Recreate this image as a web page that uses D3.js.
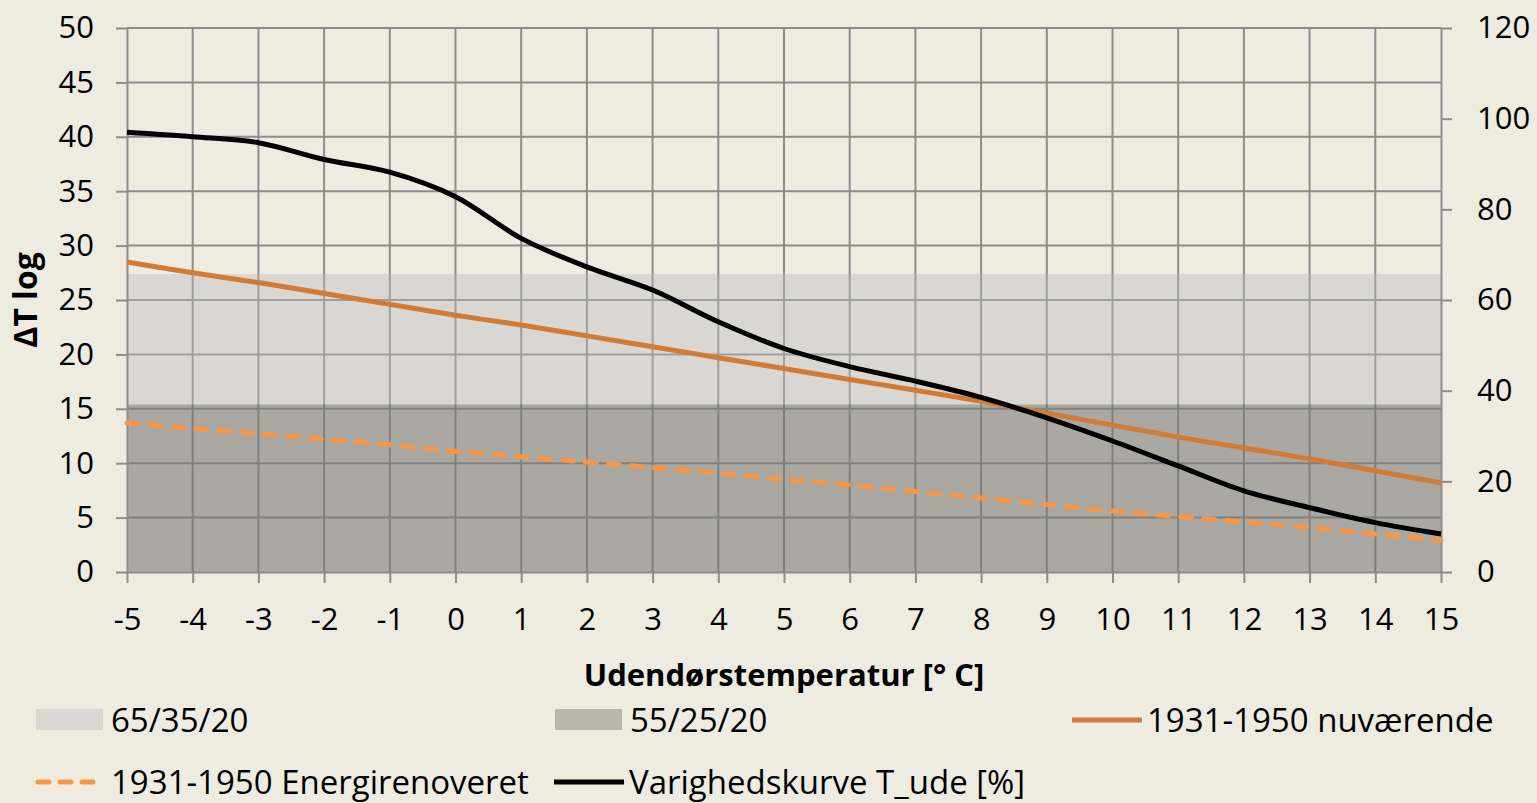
<!DOCTYPE html>
<html>
<head>
<meta charset="utf-8">
<script src="https://cdn.jsdelivr.net/npm/d3@7"></script>
<style>
  body { margin: 0; background: #EEECE1; }
  svg { display: block; font-family: "Open Sans", Lato, sans-serif; }
</style>
</head>
<body>
<svg id="chart" width="1537" height="803"></svg>
<script>
// Outdoor temperature categories (x axis).
const temps = [-5, -4, -3, -2, -1, 0, 1, 2, 3, 4, 5, 6, 7, 8, 9, 10, 11, 12, 13, 14, 15];

// Area series (left axis).
const area65 = [27.4, 27.4, 27.4, 27.4, 27.4, 27.4, 27.4, 27.4, 27.4, 27.4, 27.4,
                27.4, 27.4, 27.4, 27.4, 27.4, 27.4, 27.4, 27.4, 27.4, 27.4];
const area55 = [15.4, 15.4, 15.4, 15.4, 15.4, 15.4, 15.4, 15.4, 15.4, 15.4, 15.4,
                15.4, 15.4, 15.4, 15.4, 15.4, 15.4, 15.4, 15.4, 15.4, 15.4];

// Line series (left axis).
const nuvaerende = [28.5, 27.5, 26.6, 25.6, 24.6, 23.6, 22.7, 21.7, 20.7, 19.7, 18.7,
                    17.7, 16.7, 15.7, 14.6, 13.5, 12.4, 11.4, 10.4, 9.3, 8.2];
const energirenoveret = [13.7, 13.2, 12.7, 12.2, 11.7, 11.1, 10.6, 10.1, 9.6, 9.1, 8.5,
                         8.0, 7.4, 6.8, 6.2, 5.6, 5.1, 4.6, 4.1, 3.5, 2.9];

// Duration curve (right axis, %).
const varighed = [97.0, 96.0, 94.7, 91.0, 88.2, 82.8, 73.6, 67.3, 62.2, 55.2, 49.3,
                  45.3, 42.1, 38.5, 34.0, 28.9, 23.4, 17.9, 14.2, 10.9, 8.4];

const leftTicks = [0, 5, 10, 15, 20, 25, 30, 35, 40, 45, 50];
const rightTicks = [0, 20, 40, 60, 80, 100, 120];

const svg = d3.select("#chart");
const plotLeft = 127, plotRight = 1441, plotTop = 28, plotBottom = 572;
const gridColor = "#8C8C8C";
const fontSize = "31px";
const lineWidth = 5;
const dashPattern = "11,12";

const x = d3.scaleLinear().domain([-5, 15]).range([plotLeft, plotRight]);
const yL = d3.scaleLinear().domain([0, 50]).range([plotBottom, plotTop]);
const yR = d3.scaleLinear().domain([0, 120]).range([plotBottom, plotTop]);

// Gridlines.
svg.append("g")
    .selectAll("line")
    .data(leftTicks.slice(1))
    .join("line")
    .attr("x1", plotLeft).attr("x2", plotRight)
    .attr("y1", d => yL(d)).attr("y2", d => yL(d))
    .attr("stroke", gridColor).attr("stroke-width", 2);

svg.append("g")
    .selectAll("line")
    .data(temps.slice(1, -1))
    .join("line")
    .attr("x1", d => x(d)).attr("x2", d => x(d))
    .attr("y1", plotTop).attr("y2", plotBottom)
    .attr("stroke", gridColor).attr("stroke-width", 2);

// Areas (semi transparent, overlapping from 0).
const areaGen = d3.area()
    .x((d, i) => x(temps[i]))
    .y0(yL(0))
    .y1(d => yL(d));

const fill65 = { color: "#BABBBD", opacity: 0.42 };
const fill55 = { color: "#34362F", opacity: 0.286 };

svg.append("path").datum(area65)
    .attr("d", areaGen)
    .attr("fill", fill65.color).attr("fill-opacity", fill65.opacity);
svg.append("path").datum(area55)
    .attr("d", areaGen)
    .attr("fill", fill55.color).attr("fill-opacity", fill55.opacity);

// Axes.
function styleAxis(g) {
    g.selectAll(".domain").attr("stroke", gridColor).attr("stroke-width", 2);
    g.selectAll(".tick line").attr("stroke", gridColor).attr("stroke-width", 2);
    g.selectAll(".tick text")
        .attr("fill", "#000")
        .style("font-family", "'Open Sans', Lato, sans-serif")
        .style("font-size", fontSize);
}

// Plain hyphen for negatives, as in the original.
const plainFormat = d => String(d);

svg.append("g")
    .attr("transform", `translate(${plotLeft},0)`)
    .call(d3.axisLeft(yL).tickValues(leftTicks).tickFormat(plainFormat)
        .tickSize(11).tickPadding(22).tickSizeOuter(0))
    .call(styleAxis);

svg.append("g")
    .attr("transform", `translate(0,${plotBottom})`)
    .call(d3.axisBottom(x).tickValues(temps).tickFormat(plainFormat)
        .tickSize(11).tickPadding(25).tickSizeOuter(0))
    .call(styleAxis);

svg.append("g")
    .attr("transform", `translate(${plotRight},0)`)
    .call(d3.axisRight(yR).tickValues(rightTicks).tickFormat(plainFormat)
        .tickSize(11).tickPadding(25).tickSizeOuter(0))
    .call(styleAxis);

// Lines.
const lineL = d3.line()
    .x((d, i) => x(temps[i]))
    .y(d => yL(d))
    .curve(d3.curveCatmullRom.alpha(0.5));
const lineR = d3.line()
    .x((d, i) => x(temps[i]))
    .y(d => yR(d))
    .curve(d3.curveCatmullRom.alpha(0.5));

svg.append("path").datum(energirenoveret)
    .attr("d", lineL).attr("fill", "none")
    .attr("stroke", "#F79646").attr("stroke-width", lineWidth)
    .attr("stroke-linecap", "round")
    .attr("stroke-dasharray", dashPattern);

svg.append("path").datum(nuvaerende)
    .attr("d", lineL).attr("fill", "none")
    .attr("stroke", "#D27B35").attr("stroke-width", lineWidth);

svg.append("path").datum(varighed)
    .attr("d", lineR).attr("fill", "none")
    .attr("stroke", "#000").attr("stroke-width", lineWidth);

// Axis titles.
svg.append("text")
    .attr("x", 784).attr("y", 686)
    .attr("text-anchor", "middle")
    .style("font-size", "31px").style("font-weight", "bold")
    .text("Udendørstemperatur [° C]");

svg.append("text")
    .attr("transform", "translate(37,300) rotate(-90)")
    .attr("text-anchor", "middle")
    .style("font-size", "32px").style("font-weight", "bold")
    .text("ΔT log");

// Legend.
const legendItems = [
    { label: "65/35/20", type: "rect", fill: fill65, x: 36, y: 720 },
    { label: "55/25/20", type: "rect", fill: fill55, x: 555, y: 720 },
    { label: "1931-1950 nuværende", type: "line", color: "#D27B35", x: 1072, y: 720 },
    { label: "1931-1950 Energirenoveret", type: "dash", color: "#F79646", x: 36, y: 782 },
    { label: "Varighedskurve T_ude [%]", type: "line", color: "#000", x: 554, y: 782 }
];

const legend = svg.append("g");
legendItems.forEach(function(d) {
    if (d.type === "rect") {
        legend.append("rect")
            .attr("x", d.x).attr("y", d.y - 11)
            .attr("width", 67).attr("height", 21)
            .attr("fill", "#EEECE1");
        legend.append("rect")
            .attr("x", d.x).attr("y", d.y - 11)
            .attr("width", 67).attr("height", 21)
            .attr("fill", d.fill.color).attr("fill-opacity", d.fill.opacity);
    } else if (d.type === "dash") {
        legend.append("line")
            .attr("x1", d.x + 2).attr("x2", d.x + 62)
            .attr("y1", d.y).attr("y2", d.y)
            .attr("stroke", d.color).attr("stroke-width", lineWidth)
            .attr("stroke-linecap", "round")
            .attr("stroke-dasharray", "11,11");
    } else {
        legend.append("line")
            .attr("x1", d.x).attr("x2", d.x + 70)
            .attr("y1", d.y).attr("y2", d.y)
            .attr("stroke", d.color).attr("stroke-width", lineWidth);
    }
    legend.append("text")
        .attr("x", d.x + 75).attr("y", d.y)
        .attr("dy", "0.36em")
        .style("font-size", "33px")
        .text(d.label);
});
</script>
</body>
</html>
